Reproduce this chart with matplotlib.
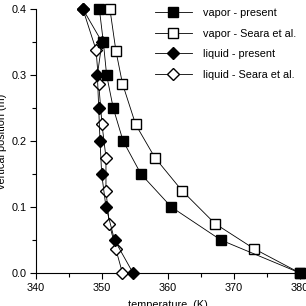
import matplotlib
matplotlib.use("Agg")
import matplotlib.pyplot as plt
from matplotlib.ticker import MultipleLocator

plt.rcParams['font.family'] = ['Liberation Sans', 'DejaVu Sans']

# vapor - present
vp_y = [0.4, 0.35, 0.3, 0.25, 0.2, 0.15, 0.1, 0.05, 0.0]
vp_t = [349.6, 350.2, 350.7, 351.7, 353.2, 355.9, 360.5, 368.0, 380.0]
# vapor - Seara et al.
vs_y = [0.4, 0.337, 0.287, 0.225, 0.175, 0.125, 0.075, 0.037, 0.0]
vs_t = [351.2, 352.1, 353.1, 355.1, 358.0, 362.1, 367.1, 373.0, 380.0]
# liquid - present
lp_y = [0.4, 0.35, 0.3, 0.25, 0.2, 0.15, 0.1, 0.05, 0.0]
lp_t = [347.1, 350.0, 349.3, 349.5, 349.7, 349.95, 350.6, 351.9, 354.7]
# liquid - Seara et al.
ls_y = [0.4, 0.338, 0.287, 0.225, 0.175, 0.125, 0.075, 0.036, 0.0]
ls_t = [347.1, 349.1, 349.5, 350.0, 350.6, 350.6, 351.1, 352.1, 353.1]

fig = plt.figure(figsize=(3.06, 3.06), dpi=100)
ax = fig.add_axes([36/306, 33/306, 264/306, 264/306])

lw = 0.6
ax.plot(vs_t, vs_y, '-', color='black', lw=lw, marker='s', ms=6.5, mfc='white',
        mec='black', mew=1.0, clip_on=False, label='vapor - Seara et al.', zorder=3)
ax.plot(ls_t, ls_y, '-', color='black', lw=lw, marker='D', ms=6.0, mfc='white',
        mec='black', mew=1.0, clip_on=False, label='liquid - Seara et al.', zorder=3)
ax.plot(vp_t, vp_y, '-', color='black', lw=lw, marker='s', ms=6.5, mfc='black',
        mec='black', mew=1.0, clip_on=False, label='vapor - present', zorder=4)
ax.plot(lp_t, lp_y, '-', color='black', lw=lw, marker='D', ms=6.0, mfc='black',
        mec='black', mew=1.0, clip_on=False, label='liquid - present', zorder=4)

ax.set_xlim(340, 380)
ax.set_ylim(0.0, 0.4)
ax.xaxis.set_major_locator(MultipleLocator(10))
ax.xaxis.set_minor_locator(MultipleLocator(5))
ax.yaxis.set_major_locator(MultipleLocator(0.1))
ax.yaxis.set_minor_locator(MultipleLocator(0.05))
ax.yaxis.set_major_formatter(matplotlib.ticker.FormatStrFormatter('%.1f'))
ax.spines['top'].set_visible(False)
ax.spines['right'].set_visible(False)
for s in ('left', 'bottom'):
    ax.spines[s].set_linewidth(0.8)
ax.tick_params(which='major', direction='out', length=4, width=0.8, labelsize=7.8, pad=3)
ax.tick_params(which='minor', direction='out', length=3, width=0.8)

ax.set_xlabel('temperature  (K)', fontsize=7.8, labelpad=5)
ax.set_ylabel('vertical position (m)', fontsize=7.8, labelpad=3)

h, l = ax.get_legend_handles_labels()
order = [2, 0, 3, 1]
fig.legend([h[i] for i in order], [l[i] for i in order], loc='upper left',
           bbox_to_anchor=(155/306, 1 - 8/306), frameon=False, fontsize=7.8,
           borderpad=0, borderaxespad=0, handlelength=3.4, handletextpad=1.0,
           labelspacing=0.98)

fig.savefig('out.png', dpi=100)
